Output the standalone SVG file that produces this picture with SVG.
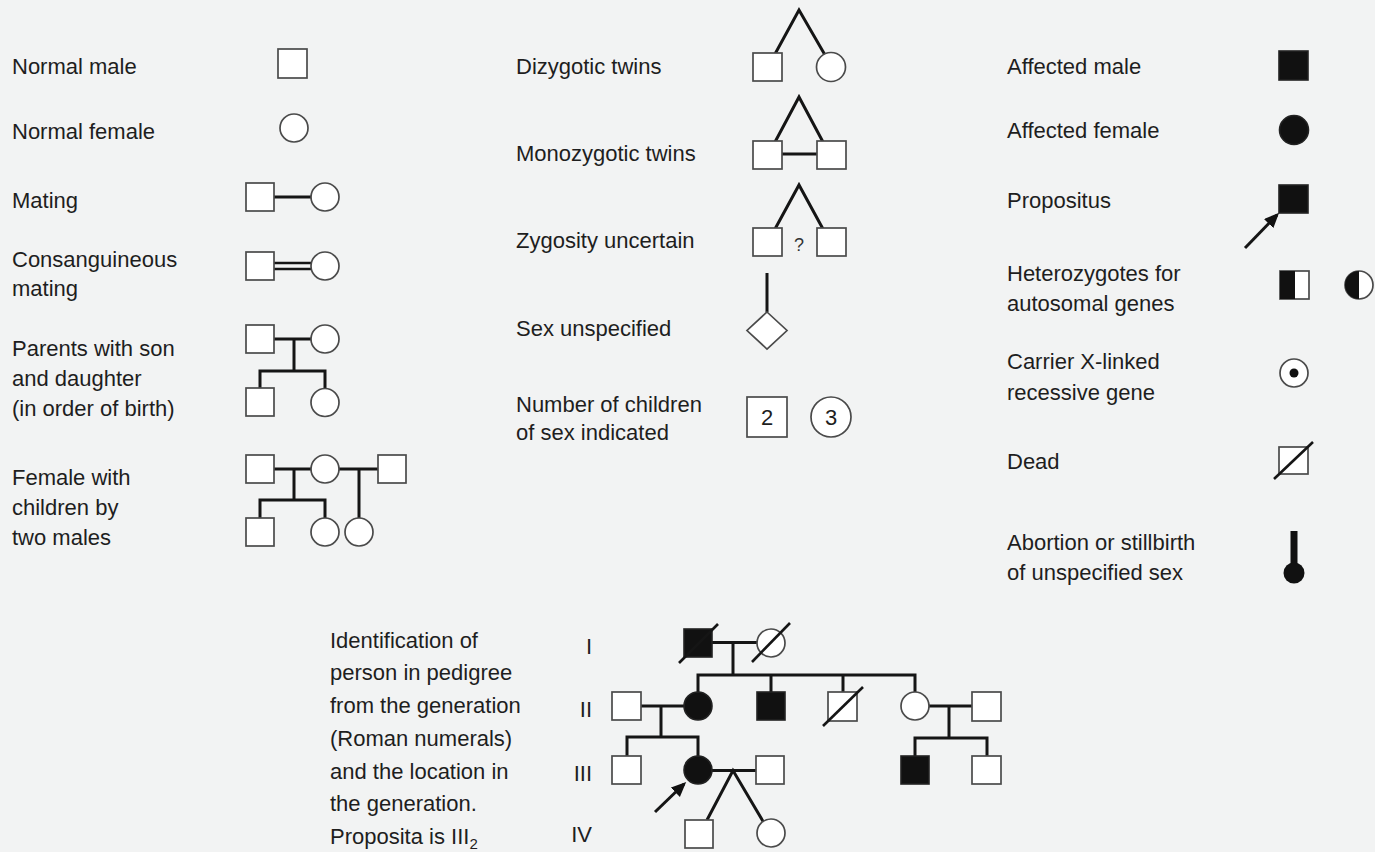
<svg xmlns="http://www.w3.org/2000/svg" width="1375" height="852" viewBox="0 0 1375 852">
<style>
.t{font-family:"Liberation Sans",Arial,sans-serif;font-size:22px;fill:#1e1e1e}
.s{fill:#fff;stroke:#4a4a4a;stroke-width:1.7}
.a{fill:#111;stroke:#222;stroke-width:1.6}
.ln{stroke:#151515;stroke-width:3;fill:none}
.dl{stroke:#151515;stroke-width:2.6;fill:none}
.dg{stroke:#151515;stroke-width:2.6}
</style>
<defs>
<marker id="arr" markerUnits="userSpaceOnUse" markerWidth="16" markerHeight="14" refX="12" refY="6.5" orient="auto">
<path d="M0,0 L15,6.5 L0,13 z" fill="#111"/>
</marker>
</defs>
<rect width="1375" height="852" fill="#f2f3f3"/>

<!-- Left column labels -->
<g id="labels-left" class="t">
<text x="12" y="74">Normal male</text>
<text x="12" y="139">Normal female</text>
<text x="12" y="208">Mating</text>
<text x="12" y="267">Consanguineous</text>
<text x="12" y="296">mating</text>
<text x="12" y="356">Parents with son</text>
<text x="12" y="386">and daughter</text>
<text x="12" y="416">(in order of birth)</text>
<text x="12" y="485">Female with</text>
<text x="12" y="515">children by</text>
<text x="12" y="545">two males</text>
</g>
<g id="labels-mid" class="t">
<text x="516" y="74">Dizygotic twins</text>
<text x="516" y="161">Monozygotic twins</text>
<text x="516" y="248">Zygosity uncertain</text>
<text x="516" y="336">Sex unspecified</text>
<text x="516" y="412">Number of children</text>
<text x="516" y="440">of sex indicated</text>
</g>
<g id="labels-right" class="t">
<text x="1007" y="74">Affected male</text>
<text x="1007" y="138">Affected female</text>
<text x="1007" y="208">Propositus</text>
<text x="1007" y="281">Heterozygotes for</text>
<text x="1007" y="311">autosomal genes</text>
<text x="1007" y="369">Carrier X-linked</text>
<text x="1007" y="400">recessive gene</text>
<text x="1007" y="469">Dead</text>
<text x="1007" y="550">Abortion or stillbirth</text>
<text x="1007" y="580">of unspecified sex</text>
</g>
<g id="labels-pedigree" class="t">
<text x="330" y="648">Identification of</text>
<text x="330" y="680">person in pedigree</text>
<text x="330" y="713">from the generation</text>
<text x="330" y="746">(Roman numerals)</text>
<text x="330" y="779">and the location in</text>
<text x="330" y="811">the generation.</text>
<text x="330" y="844">Proposita is III<tspan font-size="15" dy="5">2</tspan></text>
<text x="592" y="654" text-anchor="end">I</text>
<text x="592" y="717" text-anchor="end">II</text>
<text x="592" y="781" text-anchor="end">III</text>
<text x="592" y="842" text-anchor="end">IV</text>
</g>

<!-- connectors -->
<g id="connectors">
<line class="ln" x1="274" y1="197" x2="311" y2="197"/>
<line class="dl" x1="274" y1="263" x2="311" y2="263"/>
<line class="dl" x1="274" y1="269" x2="311" y2="269"/>
<line class="ln" x1="274" y1="339" x2="311" y2="339"/>
<line class="ln" x1="294" y1="339" x2="294" y2="371"/>
<path class="ln" d="M260,388 V371 H325 V388.5"/>
<line class="ln" x1="274" y1="469" x2="311" y2="469"/>
<line class="ln" x1="339" y1="469" x2="378" y2="469"/>
<line class="ln" x1="294" y1="469" x2="294" y2="500"/>
<path class="ln" d="M260,518 V500 H325 V518"/>
<line class="ln" x1="359" y1="469" x2="359" y2="518"/>
<polyline class="ln" points="775,54 799,10 825,55"/>
<polyline class="ln" points="775,142 799,97 823,142"/>
<line class="ln" x1="782" y1="154" x2="817" y2="154"/>
<polyline class="ln" points="775,229 799,185 823,229"/>
<line class="ln" x1="767" y1="273" x2="767" y2="312"/>
<line class="ln" x1="1245" y1="248" x2="1277" y2="215" marker-end="url(#arr)"/>
<line x1="1294" y1="531" x2="1294" y2="566" stroke="#111" stroke-width="7"/>
<line class="ln" x1="712" y1="642.5" x2="757" y2="642.5"/>
<line class="ln" x1="733" y1="642" x2="733" y2="675"/>
<path class="ln" d="M698,692 V675 H915 V692"/>
<line class="ln" x1="771" y1="675" x2="771" y2="692"/>
<line class="ln" x1="843" y1="675" x2="843" y2="692"/>
<line class="ln" x1="641" y1="706" x2="684" y2="706"/>
<line class="ln" x1="661" y1="706" x2="661" y2="737"/>
<path class="ln" d="M627,756 V737 H698 V756"/>
<line class="ln" x1="929" y1="706" x2="972" y2="706"/>
<line class="ln" x1="949" y1="706" x2="949" y2="738"/>
<path class="ln" d="M915,756 V738 H987 V756"/>
<line class="ln" x1="712" y1="770.5" x2="756" y2="770.5"/>
<polyline class="ln" points="707,820 733,770.5 764,823"/>
<line class="ln" x1="655" y1="812" x2="684" y2="784" marker-end="url(#arr)"/>
</g>

<!-- left legend nodes -->
<g id="normal-male"><rect class="s" x="278" y="49" width="29" height="29"/></g>
<g id="normal-female"><circle class="s" cx="294" cy="128" r="14"/></g>
<g id="mating"><rect class="s" x="246" y="183" width="28" height="28"/><circle class="s" cx="325" cy="197" r="14"/></g>
<g id="consanguineous"><rect class="s" x="246" y="252" width="28" height="28"/><circle class="s" cx="325" cy="266" r="14"/></g>
<g id="parents-son-daughter"><rect class="s" x="246" y="325" width="28" height="28"/><circle class="s" cx="325" cy="339" r="14"/><rect class="s" x="246" y="388" width="28" height="28"/><circle class="s" cx="325" cy="402.5" r="14"/></g>
<g id="female-two-males"><rect class="s" x="246" y="455" width="28" height="28"/><circle class="s" cx="325" cy="469" r="14"/><rect class="s" x="378" y="455" width="28" height="28"/><rect class="s" x="246" y="518" width="28" height="28"/><circle class="s" cx="325" cy="532" r="14"/><circle class="s" cx="359" cy="532" r="14"/></g>

<!-- middle legend nodes -->
<g id="dizygotic"><rect class="s" x="753" y="53" width="29" height="28"/><circle class="s" cx="831" cy="67" r="14.5"/></g>
<g id="monozygotic"><rect class="s" x="753" y="141" width="29" height="28"/><rect class="s" x="817" y="141" width="29" height="28"/></g>
<g id="zygosity-uncertain"><rect class="s" x="753" y="228" width="29" height="28"/><rect class="s" x="817" y="228" width="29" height="28"/><text x="799" y="251" text-anchor="middle" style="font-family:'Liberation Sans',Arial,sans-serif;font-size:18px;fill:#333">?</text></g>
<g id="sex-unspecified"><polygon class="s" points="767,312 787,330.5 767,349 747,330.5"/></g>
<g id="number-children"><rect class="s" x="747" y="397" width="40" height="40"/><text class="t" x="767" y="425" text-anchor="middle">2</text><circle class="s" cx="831" cy="417" r="20"/><text class="t" x="831" y="425" text-anchor="middle">3</text></g>

<!-- right legend nodes -->
<g id="affected-male"><rect class="a" x="1279" y="51" width="29" height="29"/></g>
<g id="affected-female"><circle class="a" cx="1294" cy="130" r="14.5"/></g>
<g id="propositus"><rect class="a" x="1279" y="185" width="29" height="28"/></g>
<g id="heterozygotes"><rect class="s" x="1280" y="271" width="29" height="28"/><rect x="1280" y="271" width="15" height="28" fill="#111"/><circle class="s" cx="1359" cy="285" r="14"/><path d="M1359,271 A14,14 0 0 0 1359,299 Z" fill="#111"/></g>
<g id="carrier"><circle class="s" cx="1294" cy="373" r="14"/><circle cx="1294" cy="373" r="4.5" fill="#111"/></g>
<g id="dead"><rect class="s" x="1279" y="447" width="29" height="27"/><line class="dg" x1="1274" y1="479" x2="1313" y2="442"/></g>
<g id="abortion"><circle cx="1294" cy="573" r="10.5" fill="#111"/></g>

<!-- pedigree nodes -->
<g id="I-1"><rect class="a" x="684" y="629" width="28" height="28"/><line class="dg" x1="679" y1="663" x2="718" y2="624"/></g>
<g id="I-2"><circle class="s" cx="771" cy="643" r="14"/><line class="dg" x1="752" y1="662" x2="790" y2="623"/></g>
<g id="II-1"><rect class="s" x="612" y="692" width="29" height="28"/></g>
<g id="II-2"><circle class="a" cx="698" cy="706" r="14"/></g>
<g id="II-3"><rect class="a" x="757" y="692" width="28" height="28"/></g>
<g id="II-4"><rect class="s" x="828" y="692" width="29" height="29"/><line class="dg" x1="823" y1="726" x2="863" y2="687"/></g>
<g id="II-5"><circle class="s" cx="915" cy="706" r="14"/></g>
<g id="II-6"><rect class="s" x="972" y="692" width="29" height="29"/></g>
<g id="III-1"><rect class="s" x="612" y="756" width="29" height="28"/></g>
<g id="III-2"><circle class="a" cx="698" cy="770" r="14"/></g>
<g id="III-3"><rect class="s" x="756" y="756" width="28" height="28"/></g>
<g id="III-4"><rect class="a" x="901" y="756" width="28" height="28"/></g>
<g id="III-5"><rect class="s" x="972" y="756" width="29" height="28"/></g>
<g id="IV-1"><rect class="s" x="685" y="820" width="28" height="28"/></g>
<g id="IV-2"><circle class="s" cx="771" cy="833" r="14"/></g>
</svg>
